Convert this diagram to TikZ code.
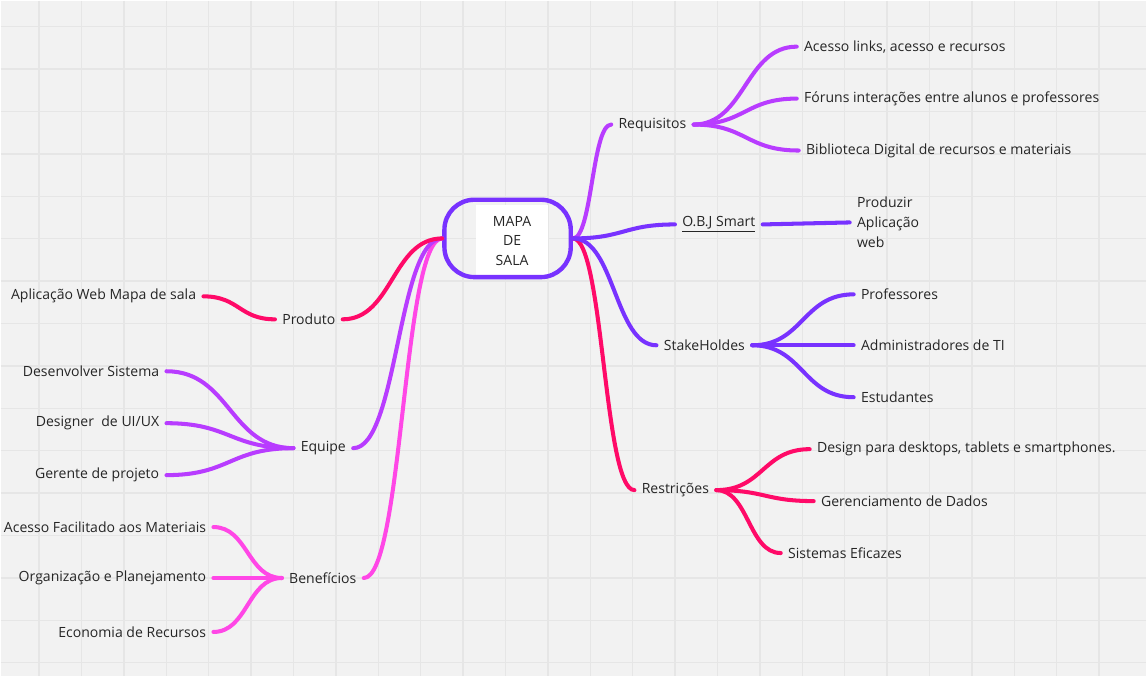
\documentclass[tikz,border=0pt]{standalone}
\usepackage{fontspec}
\setmainfont{Open Sans}
\usepackage{tikz}
\usetikzlibrary{positioning,calc,shadows}
\definecolor{bg}{HTML}{F2F2F2}
\definecolor{gridgray}{HTML}{E6E6E6}
\definecolor{ink}{HTML}{252525}
\definecolor{pinkred}{HTML}{FF0A68}
\definecolor{lilac}{HTML}{B83CFF}
\definecolor{violet}{HTML}{7832FF}
\definecolor{magenta}{HTML}{FF47E6}
\tikzstyle{gridline}=[draw=gridgray, line width=0.8pt]
\tikzstyle{leaf}=[inner sep=4pt, text=ink, font=\fontsize{8}{11.4}\selectfont]
\tikzstyle{topic}=[inner sep=4pt, text=ink, font=\fontsize{8}{11.4}\selectfont]
\tikzstyle{sticky}=[rectangle, fill=white, minimum width=1.44cm, minimum height=1.44cm, align=center, text=ink, font=\fontsize{8}{11.1}\selectfont, drop shadow={shadow xshift=0pt, shadow yshift=-1.5pt, opacity=0.25}]
\tikzstyle{mapabox}=[rectangle, draw=violet, line width=2.5pt, rounded corners=0.6cm, minimum width=2.53cm, minimum height=1.55cm]
\tikzstyle{pinkline}=[draw=pinkred, line width=2.3pt, line cap=round]
\tikzstyle{lilacline}=[draw=lilac, line width=2.3pt, line cap=round]
\tikzstyle{violetline}=[draw=violet, line width=2.3pt, line cap=round]
\tikzstyle{magentaline}=[draw=magenta, line width=2.3pt, line cap=round]
\tikzset{branchcurve/.style={to path={let \p1=(\tikztostart), \p2=(\tikztotarget) in
  .. controls ({(\x1+\x2)/2},\y1) and ({(\x1+\x2)/2},\y2) .. (\tikztotarget)}}}

\begin{document}
\begin{tikzpicture}[x=0.02cm,y=-0.02cm]

% background and grid
\fill[bg] (0,0) rectangle (1147,676);
\foreach \i in {0,...,25} \draw[gridline] (38.5+42.45*\i,0) -- (38.5+42.45*\i,676);
\foreach \j in {0,...,15} \draw[gridline] (0,26+42.45*\j) -- (1147,26+42.45*\j);
\useasboundingbox (0,0) rectangle (1147,676);

% centre
\node[sticky](mapatext) at (512,240.5) {MAPA\\DE\\SALA};
\node[mapabox](mapa) at (507.5,238) {};

% left side
\node[topic](prod) at (308.5,319) {Produto};
\node[topic](equipe) at (323,448) {Equipe};
\node[topic](benef) at (322.5,578) {Benefícios};

\node[leaf, anchor=east](web) at (203,296) {Aplicação Web Mapa de sala};
\node[leaf, anchor=east](dev) at (166,371) {Desenvolver Sistema};
\node[leaf, anchor=east](uiux) at (166,423) {Designer\ \ de UI/UX};
\node[leaf, anchor=east](ger) at (166,475) {Gerente de projeto};
\node[leaf, anchor=east](acfac) at (213,527) {Acesso Facilitado aos Materiais};
\node[leaf, anchor=east](org) at (213,578) {Organização e Planejamento};
\node[leaf, anchor=east](econ) at (213,632) {Economia de Recursos};

% right side
\node[topic](req) at (652.5,124) {Requisitos};
\node[topic](obj) at (719,224) {\underline{O.B.J Smart}};
\node[topic](stake) at (704.5,345) {StakeHoldes};
\node[topic](restr) at (675.5,490) {Restrições};

\node[leaf, anchor=west](links) at (797,46) {Acesso links, acesso e recursos};
\node[leaf, anchor=west](foruns) at (797,98) {Fóruns interações entre alunos e professores};
\node[leaf, anchor=west](biblio) at (799,150) {Biblioteca Digital de recursos e materiais};
\node[leaf, anchor=west, align=left](apweb) at (850,222) {Produzir\\Aplicação\\web};
\node[leaf, anchor=west](profs) at (854,294) {Professores};
\node[leaf, anchor=west](admti) at (854,345) {Administradores de TI};
\node[leaf, anchor=west](estud) at (854,397) {Estudantes};
\node[leaf, anchor=west](design) at (810,449) {Design para desktops, tablets e smartphones.};
\node[leaf, anchor=west](dados) at (814,501) {Gerenciamento de Dados};
\node[leaf, anchor=west](efic) at (781,553) {Sistemas Eficazes};

% branches to the centre
\draw[magentaline](benef.east) to[branchcurve] (mapa.west);
\draw[lilacline](equipe.east) to[branchcurve] (mapa.west);
\draw[pinkline](prod.east) to[branchcurve] (mapa.west);
\draw[lilacline](mapa.east) to[branchcurve] (req.west);
\draw[pinkline](mapa.east) to[branchcurve] (restr.west);
\draw[violetline](mapa.east) to[branchcurve] (stake.west);
\draw[violetline](mapa.east) to[branchcurve] (obj.west);

% leaves
\draw[pinkline](web.east) to[branchcurve] (prod.west);
\draw[lilacline](dev.east) to[branchcurve] (equipe.west);
\draw[lilacline](uiux.east) to[branchcurve] (equipe.west);
\draw[lilacline](ger.east) to[branchcurve] (equipe.west);
\draw[magentaline](acfac.east) to[branchcurve] (benef.west);
\draw[magentaline](org.east) to[branchcurve] (benef.west);
\draw[magentaline](econ.east) to[branchcurve] (benef.west);

\draw[lilacline](req.east) to[branchcurve] (links.west);
\draw[lilacline](req.east) to[branchcurve] (foruns.west);
\draw[lilacline](req.east) to[branchcurve] (biblio.west);
\draw[violetline](obj.east) to[branchcurve] (apweb.west);
\draw[violetline](stake.east) to[branchcurve] (profs.west);
\draw[violetline](stake.east) to[branchcurve] (admti.west);
\draw[violetline](stake.east) to[branchcurve] (estud.west);
\draw[pinkline](restr.east) to[branchcurve] (design.west);
\draw[pinkline](restr.east) to[branchcurve] (dados.west);
\draw[pinkline](restr.east) to[branchcurve] (efic.west);

\end{tikzpicture}
\end{document}
